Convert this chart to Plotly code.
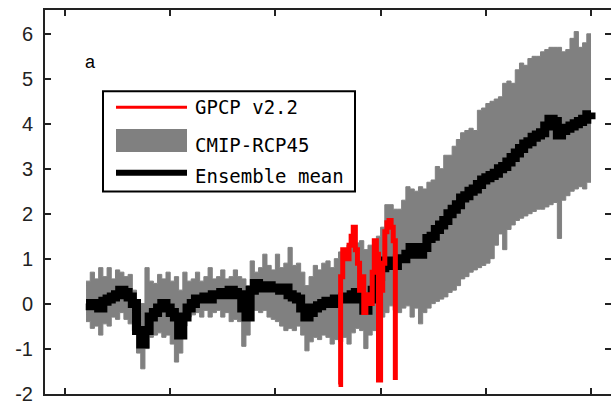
import plotly.graph_objects as go

# ---------------- data ----------------
years = list(range(1860, 2101, 2))

ens_mean = [
    0.0, -0.05, 0.0, -0.1, 0.05, 0.1, 0.15, 0.2, 0.3, 0.25,          # 1860-1878
    0.15, 0.0, -0.6, -0.9, -0.6, -0.3, -0.2, -0.1, 0.0, -0.1,        # 1880-1898
    -0.2, -0.3, -0.7, -0.3, -0.1, 0.0, 0.1, 0.1, 0.15, 0.1,          # 1900-1918
    0.2, 0.2, 0.25, 0.2, 0.3, 0.25, 0.2, -0.1, -0.3, 0.3,            # 1920-1938
    0.45, 0.4, 0.35, 0.4, 0.35, 0.35, 0.3, 0.35, 0.2, 0.15,          # 1940-1958
    0.1, -0.1, -0.3, -0.2, -0.1, -0.05, 0.0, 0.05, 0.0, 0.1,         # 1960-1978
    0.1, 0.15, 0.1, 0.2, 0.25, 0.1, -0.15, 0.1, 0.3, 0.6,            # 1980-1998
    0.8, 0.95, 0.9, 0.85, 1.0, 1.0, 1.1, 1.25, 1.2, 1.1,             # 2000-2018
    1.25, 1.45, 1.5, 1.65, 1.75, 1.85, 2.0, 2.1, 2.2, 2.35,          # 2020-2038
    2.4, 2.5, 2.55, 2.65, 2.75, 2.8, 2.85, 2.9, 3.0, 3.05,           # 2040-2058
    3.15, 3.25, 3.35, 3.45, 3.55, 3.6, 3.7, 3.75, 3.8, 3.95,         # 2060-2078
    4.1, 4.05, 3.75, 3.85, 3.9, 3.95, 4.0, 4.05, 4.1, 4.2,           # 2080-2098
    4.25,                                                            # 2100
]

cmip_upper = [
    0.5, 0.7, 0.55, 0.8, 0.6, 0.8, 0.55, 0.75, 0.7, 0.6,
    0.65, 0.3, -0.2, 0.0, 0.8, 0.5, 0.45, 0.65, 0.55, 0.7,
    0.5, 0.6, 0.3, 0.7, 0.5, 0.55, 0.7, 0.5, 0.6, 0.8,
    0.55, 0.6, 0.75, 0.55, 0.6, 0.75, 0.6, 0.55, 0.4, 0.95,
    0.7, 0.8, 1.1, 0.85, 0.75, 1.1, 0.8, 0.9, 1.25, 0.85,
    0.9, 0.7, 0.4, 0.6, 0.85, 0.75, 0.9, 0.95, 0.8, 1.0,
    1.15, 1.1, 1.3, 1.45, 1.35, 1.4, 1.2, 1.3, 1.3, 1.5,
    1.7, 2.2, 2.2, 2.1, 2.1, 2.3, 2.6, 2.55, 2.5, 2.6,
    2.55, 2.7, 2.75, 3.05, 3.0, 3.3, 3.3, 3.5, 3.65, 3.8,
    3.85, 3.9, 3.85, 4.3, 4.35, 4.45, 4.5, 4.55, 4.6, 4.9,
    4.95, 4.9, 5.2, 5.35, 5.3, 5.45, 5.5, 5.5, 5.6, 5.65,
    5.7, 5.7, 5.7, 5.6, 5.65, 5.9, 6.05, 5.7, 5.8, 6.0,
    6.0,
]

cmip_lower = [
    -0.4, -0.55, -0.5, -0.7, -0.45, -0.5, -0.3, -0.35, -0.2, -0.35,
    -0.45, -0.6, -1.1, -1.45, -1.0, -0.75, -0.7, -0.65, -0.75, -0.7,
    -0.9, -1.3, -1.1, -0.5, -0.3, -0.25, -0.2, -0.3, -0.15, -0.3,
    -0.2, -0.15, -0.3, -0.2, -0.4, -0.35, -0.4, -0.95, -0.7, -0.15,
    -0.15, -0.2, -0.15, -0.3, -0.35, -0.4, -0.5, -0.6, -0.55, -0.6,
    -0.5, -0.7, -1.05, -0.85, -0.75, -0.8, -0.7, -0.75, -0.9, -0.8,
    -0.85, -0.75, -0.9, -0.65, -0.55, -0.6, -1.0, -0.7, -0.6, -0.4,
    -0.3, -0.2, -0.05, -0.15, -0.2, -0.1, -0.05, -0.3, -0.1, -0.45,
    -0.2, -0.1, 0.0, 0.05, 0.1, 0.15, 0.25, 0.3, 0.4, 0.55,
    0.6, 0.7, 0.75, 0.8, 0.85, 0.9, 1.0, 1.3, 1.55, 1.2,
    1.65, 1.75, 1.85, 1.9, 1.95, 2.0, 2.05, 2.1, 2.1, 2.15,
    2.2, 2.25, 1.45, 2.3, 2.4, 2.5, 2.55, 2.6, 2.55, 2.7,
    2.7,
]

gpcp_years = list(range(1980, 2008))
gpcp_vals = [
    -1.8, 0.6, 1.2, 1.1, 1.0, 1.3, 1.5, 1.7, 1.2, 0.9,
    0.3, 0.6, -0.2, 0.1, 0.2, 0.0, 0.7, 1.4, 1.1, -1.7,
    0.3, 0.9, 1.6, 1.8, 1.85, 1.7, 1.4, -1.7,
]

y_tick_vals = [-2, -1, 0, 1, 2, 3, 4, 5, 6]
y_tick_text = ["-2", "-1", "0", "1", "2", "3", "4", "5", "6"]
x_tick_vals = [1850, 1900, 1950, 2000, 2050, 2100]

legend_labels = ["GPCP v2.2", "CMIP-RCP45", "Ensemble mean"]

# ---------------- figure ----------------
GRAY = "rgb(128,128,128)"
AX = "#222"

fig = go.Figure()

fig.add_trace(go.Scatter(
    x=years, y=cmip_lower, mode="lines",
    line=dict(color=GRAY, width=1, shape="hv"),
    showlegend=False, hoverinfo="skip",
))
fig.add_trace(go.Scatter(
    x=years, y=cmip_upper, mode="lines",
    line=dict(color=GRAY, width=1, shape="hv"),
    fill="tonexty", fillcolor=GRAY,
    showlegend=False, name=legend_labels[1],
))
fig.add_trace(go.Scatter(
    x=years, y=ens_mean, mode="lines",
    line=dict(color="black", width=9, shape="hv"),
    showlegend=False, name=legend_labels[2],
))
fig.add_trace(go.Scatter(
    x=gpcp_years, y=gpcp_vals, mode="lines",
    line=dict(color="red", width=5, shape="hv"),
    showlegend=False, name=legend_labels[0],
))
# invisible trace so the right-hand tick axis is rendered
fig.add_trace(go.Scatter(
    x=[years[0]], y=[ens_mean[0]], mode="markers", marker=dict(opacity=0),
    yaxis="y2", showlegend=False, hoverinfo="skip",
))

W, H = 611, 405
L, R, T, B = 45, 0, 10, 8
pw, ph = W - L - R, H - T - B


def px(x):
    return (x - L) / pw


def py(y):
    return (H - B - y) / ph


shapes = [
    dict(type="rect", xref="paper", yref="paper",
         x0=px(103), x1=px(355), y0=py(193), y1=py(92),
         line=dict(color="black", width=2), fillcolor="white"),
    dict(type="line", xref="paper", yref="paper",
         x0=px(116), x1=px(187), y0=py(108), y1=py(108),
         line=dict(color="red", width=3)),
    dict(type="rect", xref="paper", yref="paper",
         x0=px(116), x1=px(187), y0=py(153), y1=py(130),
         line=dict(width=0), fillcolor=GRAY),
    dict(type="line", xref="paper", yref="paper",
         x0=px(116), x1=px(187), y0=py(174), y1=py(174),
         line=dict(color="black", width=6)),
]

mono = dict(family="DejaVu Sans Mono", size=19, color="black")
annotations = [
    dict(xref="paper", yref="paper", x=px(193), y=py(108), text=legend_labels[0],
         showarrow=False, xanchor="left", yanchor="middle", font=mono),
    dict(xref="paper", yref="paper", x=px(193), y=py(146), text=legend_labels[1],
         showarrow=False, xanchor="left", yanchor="middle", font=mono),
    dict(xref="paper", yref="paper", x=px(193), y=py(177), text=legend_labels[2],
         showarrow=False, xanchor="left", yanchor="middle", font=mono),
    dict(xref="paper", yref="paper", x=px(90), y=py(62), text="a",
         showarrow=False, xanchor="center", yanchor="middle",
         font=dict(family="Liberation Sans", size=18, color="black")),
]

y_range = [-2.01, 6.53]

fig.update_layout(
    width=W, height=H,
    margin=dict(l=L, r=R, t=T, b=B, pad=0),
    paper_bgcolor="white", plot_bgcolor="white",
    shapes=shapes, annotations=annotations,
    showlegend=False,
    xaxis=dict(
        range=[1840.5, 2109.5],
        tickvals=x_tick_vals, showticklabels=False,
        ticks="inside", ticklen=6, tickwidth=2, tickcolor=AX,
        showline=True, linewidth=2, linecolor=AX, mirror="ticks",
        showgrid=False, zeroline=False,
    ),
    yaxis=dict(
        range=y_range,
        tickvals=y_tick_vals, ticktext=y_tick_text,
        ticks="inside", ticklen=6, tickwidth=2, tickcolor=AX,
        showline=True, linewidth=2, linecolor=AX, mirror=False,
        showgrid=False, zeroline=False,
        tickfont=dict(family="Liberation Sans", size=20, color=AX),
        ticklabelstandoff=6, ticklabeloverflow="allow",
    ),
    yaxis2=dict(
        range=y_range, overlaying="y", side="right",
        tickvals=y_tick_vals, showticklabels=False,
        ticks="inside", ticklen=6, tickwidth=2, tickcolor=AX,
        showline=False, showgrid=False, zeroline=False,
    ),
)

fig.write_html("out.html")
